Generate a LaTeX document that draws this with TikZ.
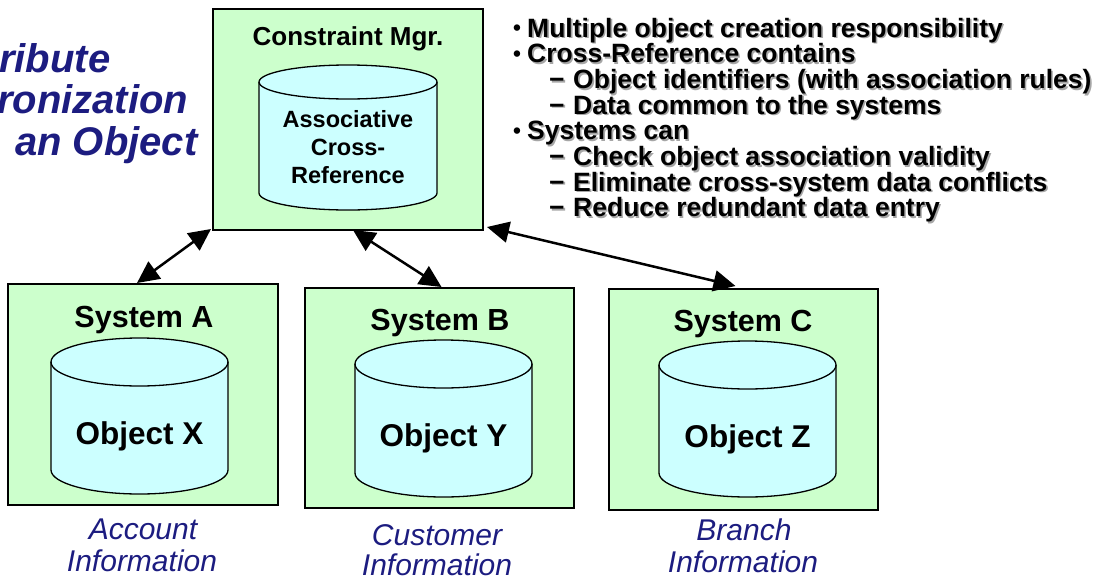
\documentclass[tikz,border=0pt]{standalone}
\usepackage{fontspec}
\setmainfont{Liberation Sans}
\usetikzlibrary{arrows.meta,calc}

\definecolor{panel}{RGB}{204,255,204}
\definecolor{drumfill}{RGB}{204,255,255}
\definecolor{navy}{RGB}{28,28,128}

% cylinder (database drum): centre x, top y, bottom y, x radius, y radius
\newcommand\drum[5]{%
  \fill[drumfill] ({#1-#4},#2) -- ({#1-#4},#3)
     arc[start angle=180,end angle=0,x radius=#4,y radius=#5]
     -- ({#1+#4},#2)
     arc[start angle=0,end angle=-180,x radius=#4,y radius=#5] -- cycle;
  \draw[drumline] ({#1-#4},#2) -- ({#1-#4},#3)
     arc[start angle=180,end angle=0,x radius=#4,y radius=#5]
     -- ({#1+#4},#2);
  \draw[drumline] (#1,#2) ellipse[x radius=#4,y radius=#5];
}
% bold text with a soft grey drop shadow
\newcommand\shadowed[1]{\makebox[0pt][l]{\hspace{1.6pt}\raisebox{-1.6pt}{\textcolor{black!35}{#1}}}#1}
\newcommand\bulletline[1]{\makebox[15pt][l]{\hspace{1pt}\raisebox{1.6pt}{\scalebox{0.85}{•}}}\shadowed{#1}}
\newcommand\dashline[1]{\makebox[24pt][l]{\shadowed{−}}\shadowed{#1}}

\tikzset{
  panelbox/.style={draw=black, line width=2pt, fill=panel, inner sep=0pt},
  drumline/.style={draw=black, line width=1.3pt},
  boxtitle/.style={anchor=base, inner sep=0pt, font=\bfseries\fontsize{30.5}{32}\selectfont},
  drumtext/.style={anchor=base, inner sep=0pt, font=\bfseries\fontsize{31.5}{32}\selectfont},
  smalltext/.style={anchor=base, inner sep=0pt, font=\bfseries\fontsize{23.5}{28}\selectfont},
  caption/.style={anchor=base, inner sep=0pt, text=navy, font=\itshape\fontsize{30}{32}\selectfont},
  headline/.style={anchor=base west, inner sep=0pt, text=navy, font=\bfseries\itshape\fontsize{40}{41}\selectfont},
  note/.style={anchor=base west, inner sep=0pt, font=\bfseries\fontsize{26.5}{26}\selectfont},
  link/.style={line width=2.5pt, {Triangle[length=22pt,width=21pt]}-{Triangle[length=22pt,width=21pt]}},
}

\begin{document}
\begin{tikzpicture}[x=1pt,y=-1pt]
\useasboundingbox (0,0) rectangle (1096,576);

% heading (runs off the left edge)
\node[headline] (h1) at (-1,72) {ribute};
\node[headline] (h2) at (-3,113.5) {ronization};
\node[headline] (h3) at (15,155) {an Object};

% constraint manager
\node[panelbox, minimum width=270pt, minimum height=221pt] (cmgr) at (348,119.5) {};
\drum{348}{82}{193}{89}{17}
\node[boxtitle, font=\bfseries\fontsize{26}{28}\selectfont] (cmgrT) at (348,45) {Constraint Mgr.};
\node[smalltext] (xr1) at (348,127) {Associative};
\node[smalltext] (xr2) at (348,155) {Cross-};
\node[smalltext] (xr3) at (348,183) {Reference};

% system A
\node[panelbox, minimum width=270pt, minimum height=221pt] (sysA) at (143,394.5) {};
\drum{139.5}{362}{470}{88.5}{24}
\node[boxtitle] (sysAT) at (144,327) {System A};
\node[drumtext] (objX) at (139.5,444) {Object X};
\node[caption] (capA1) at (143,539) {Account};
\node[caption] (capA2) at (142,571) {Information};

% system B
\node[panelbox, minimum width=269pt, minimum height=220pt] (sysB) at (439.5,398) {};
\drum{443.5}{364}{473}{88.5}{24}
\node[boxtitle] (sysBT) at (440,330) {System B};
\node[drumtext] (objY) at (443.5,446) {Object Y};
\node[caption] (capB1) at (437,545) {Customer};
\node[caption] (capB2) at (437,575) {Information};

% system C
\node[panelbox, minimum width=269pt, minimum height=221pt] (sysC) at (743.5,399.5) {};
\drum{747.5}{365}{473}{88.5}{24}
\node[boxtitle] (sysCT) at (743,331) {System C};
\node[drumtext] (objZ) at (747.5,447) {Object Z};
\node[caption] (capC1) at (744,540) {Branch};
\node[caption] (capC2) at (743,572) {Information};

% two-way links
\draw[link] ($(cmgr.south west)+(-1,-2)$) -- ($(sysA.north)+(-6,0)$);
\draw[link] ($(cmgr.south)+(5,-1)$) -- ($(sysB.north)+(2,0)$);
\draw[link] ($(cmgr.south east)+(3,-4)$) -- ($(sysC.north)+(-8,-2)$);

% notes
\node[note] (n1) at (512,37)    {\bulletline{Multiple object creation responsibility}};
\node[note] (n2) at (512,62.7)  {\bulletline{Cross-Reference contains}};
\node[note] (n3) at (549,88.4)  {\dashline{Object identifiers (with association rules)}};
\node[note] (n4) at (549,114.1) {\dashline{Data common to the systems}};
\node[note] (n5) at (512,139.8) {\bulletline{Systems can}};
\node[note] (n6) at (549,165.5) {\dashline{Check object association validity}};
\node[note] (n7) at (549,191.2) {\dashline{Eliminate cross-system data conflicts}};
\node[note] (n8) at (549,216.9) {\dashline{Reduce redundant data entry}};
\end{tikzpicture}
\end{document}
